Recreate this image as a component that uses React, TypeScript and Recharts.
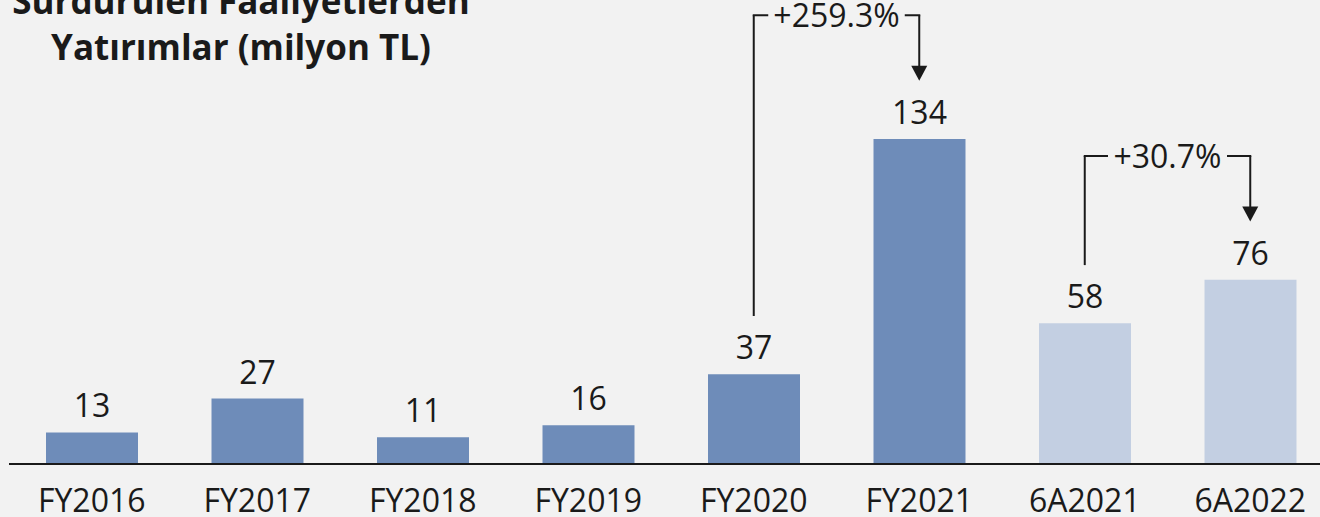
import { BarChart, Bar, Cell, XAxis, YAxis, LabelList, ReferenceLine } from "recharts"

const categories = ["FY2016", "FY2017", "FY2018", "FY2019", "FY2020", "FY2021", "6A2021", "6A2022"]
const values = [13, 27, 11, 16, 37, 134, 58, 76]

// büyüme okları: başlangıç, bitiş, etiket
const growthFrom = ["FY2020", "6A2021"]
const growthTo = ["FY2021", "6A2022"]
const growthLabels = ["+259.3%", "+30.7%"]

const FONT = "'Open Sans', sans-serif"
const DARK = "#6e8cb9"
const LIGHT = "#c3cfe2"
const INK = "#1a1a1a"

const data = categories.map((name, i) => ({ name, value: values[i] }))
const valueOf = (cat: string) => values[categories.indexOf(cat)]

function ArrowShape(props: any) {
    const { x1, y1, x2, y2 } = props
    return (
        <g>
            <line x1={x1} y1={y1} x2={x2} y2={y2 - 12} stroke={INK} strokeWidth={2} />
            <polygon points={`${x2 - 8},${y2 - 15} ${x2 + 8},${y2 - 15} ${x2},${y2}`} fill={INK} />
        </g>
    )
}

function growthLabel(text: string) {
    return (p: any) => {
        const vb = p.viewBox || {}
        const cx = vb.x + vb.width / 2
        const w = text.length * 17.5 + 14
        return (
            <g>
                <rect x={cx - w / 2} y={vb.y - 6} width={w} height={12} fill="#f2f2f2" />
                <text x={cx} y={vb.y + 12} textAnchor="middle" fontSize={32} fontFamily={FONT} fill={INK}>
                    {text}
                </text>
            </g>
        )
    }
}

export default function App() {
    return (
        <div style={{ position: "fixed", left: 0, top: 0, width: 1320, height: 517, overflow: "hidden", background: "#f2f2f2" }}>
            <div
                style={{
                    position: "absolute", left: 0, top: -22, width: 482, textAlign: "center",
                    fontFamily: FONT, fontWeight: 700, fontSize: 35, lineHeight: "46px", color: INK,
                }}
            >
                Sürdürülen Faaliyetlerden
                <br />
                Yatırımlar (milyon TL)
            </div>
            <div style={{ position: "absolute", left: 0, top: 0 }}>
                <BarChart width={1333} height={517} data={data} margin={{ top: 0, right: 0, bottom: 0, left: 9 }} barSize={92}>
                    <XAxis
                        dataKey="name"
                        height={53}
                        interval={0}
                        tickLine={false}
                        tickSize={0}
                        tickMargin={25}
                        axisLine={{ stroke: INK, strokeWidth: 2 }}
                        tick={{ fontSize: 32, fill: INK, fontFamily: FONT }}
                    />
                    <YAxis hide domain={[0, 191.3]} allowDataOverflow />
                    <Bar dataKey="value" isAnimationActive={false}>
                        {data.map(d => (
                            <Cell key={d.name} fill={d.name.startsWith("6A") ? LIGHT : DARK} />
                        ))}
                        <LabelList dataKey="value" position="top" offset={15} fontSize={32} fill={INK} fontFamily={FONT} />
                    </Bar>
                    {growthFrom.flatMap((from, i) => {
                        const to = growthTo[i]
                        const top = Math.max(valueOf(from), valueOf(to)) + 51
                        return [
                            <ReferenceLine
                                key={`l${i}`}
                                ifOverflow="visible"
                                stroke={INK}
                                strokeWidth={2}
                                segment={[{ x: from, y: valueOf(from) + 24 }, { x: from, y: top }]}
                            />,
                            <ReferenceLine
                                key={`t${i}`}
                                ifOverflow="visible"
                                stroke={INK}
                                strokeWidth={2}
                                strokeLinecap="square"
                                segment={[{ x: from, y: top }, { x: to, y: top }]}
                                label={{ content: growthLabel(growthLabels[i]) }}
                            />,
                            <ReferenceLine
                                key={`r${i}`}
                                ifOverflow="visible"
                                segment={[{ x: to, y: top }, { x: to, y: valueOf(to) + 24 }]}
                                shape={ArrowShape}
                            />,
                        ]
                    })}
                </BarChart>
            </div>
        </div>
    )
}
